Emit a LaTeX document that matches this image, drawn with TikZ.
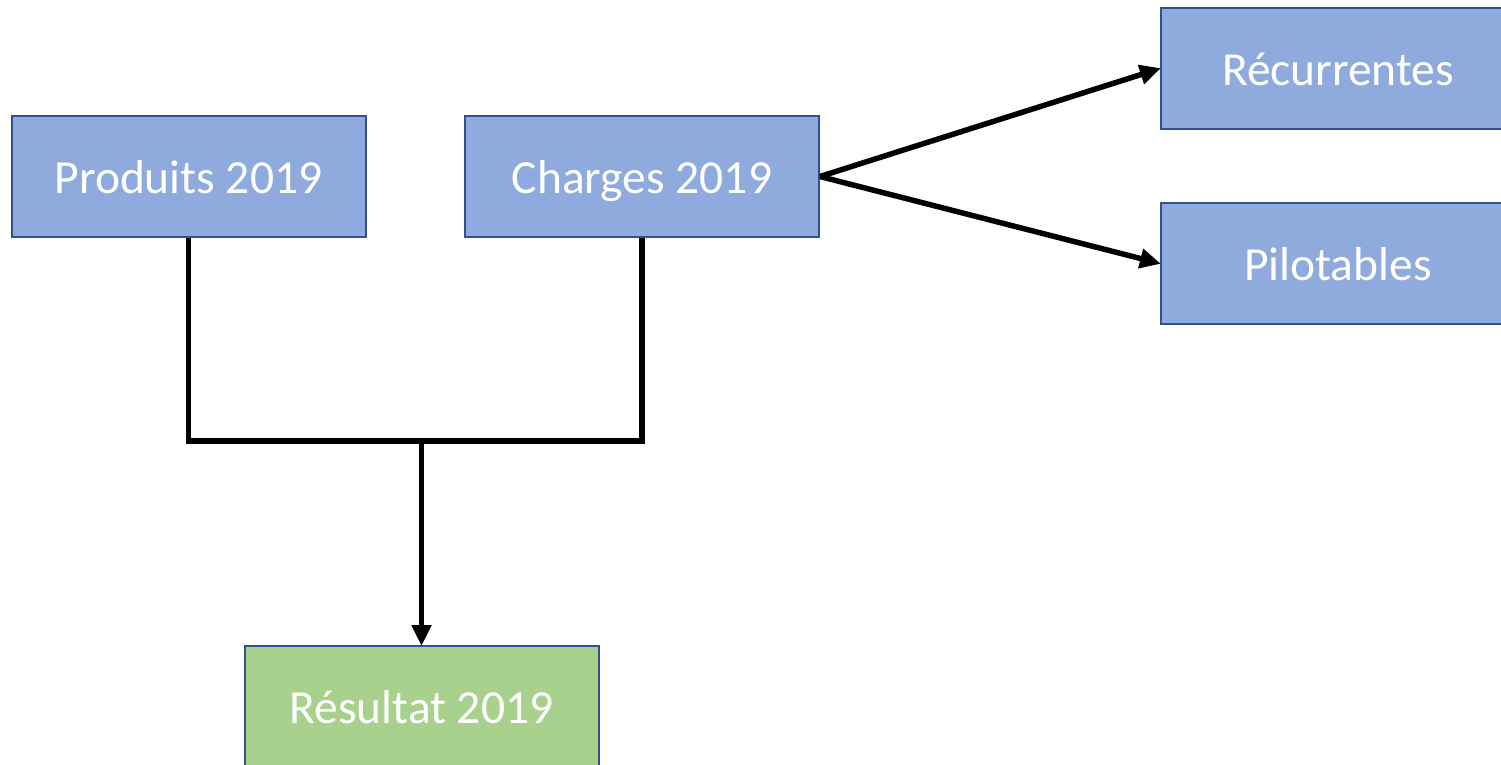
\documentclass[tikz,border=0pt]{standalone}
\usepackage{fontspec}
\setmainfont{Carlito}
\usetikzlibrary{arrows.meta}
\definecolor{boxblue}{HTML}{8FAADC}
\definecolor{boxgreen}{HTML}{A9D18E}
\definecolor{boxedge}{HTML}{2F528F}
\begin{document}
\begin{tikzpicture}[x=1pt,y=-1pt,
  box/.style={draw=boxedge, line width=2pt, fill=boxblue, text=white,
    minimum width=354pt, minimum height=121pt, inner sep=0pt,
    text height=40pt, text depth=7pt,
    font=\fontsize{47.5}{57}\selectfont},
  link/.style={line width=5.5pt, draw=black, line join=miter},
  arrowlink/.style={link, -{Triangle[length=21pt,width=19pt]}, shorten >=-1pt}]
\useasboundingbox (0,0) rectangle (1501,764);
\clip (0,0) rectangle (1501,764);
% boxes
\node[box] (prod) at (188.5,176.5) {Produits 2019};
\node[box] (charg) at (642,176.5) {Charges 2019};
\node[box] (rec) at (1338,68.5) {Récurrentes};
\node[box] (pil) at (1338,263.5) {Pilotables};
\node[box, fill=boxgreen] (res) at (421.5,706.5) {Résultat 2019};
% bracket joining products and charges
\coordinate (junc) at (421.5,441);
\draw[link] (prod.south) -- (prod.south |- junc) -- (charg.south |- junc) -- (charg.south);
\draw[arrowlink] (junc) -- (res.north);
% split of charges
\draw[arrowlink] (charg.east) -- (rec.west);
\draw[arrowlink] (charg.east) -- (pil.west);
\end{tikzpicture}
\end{document}
